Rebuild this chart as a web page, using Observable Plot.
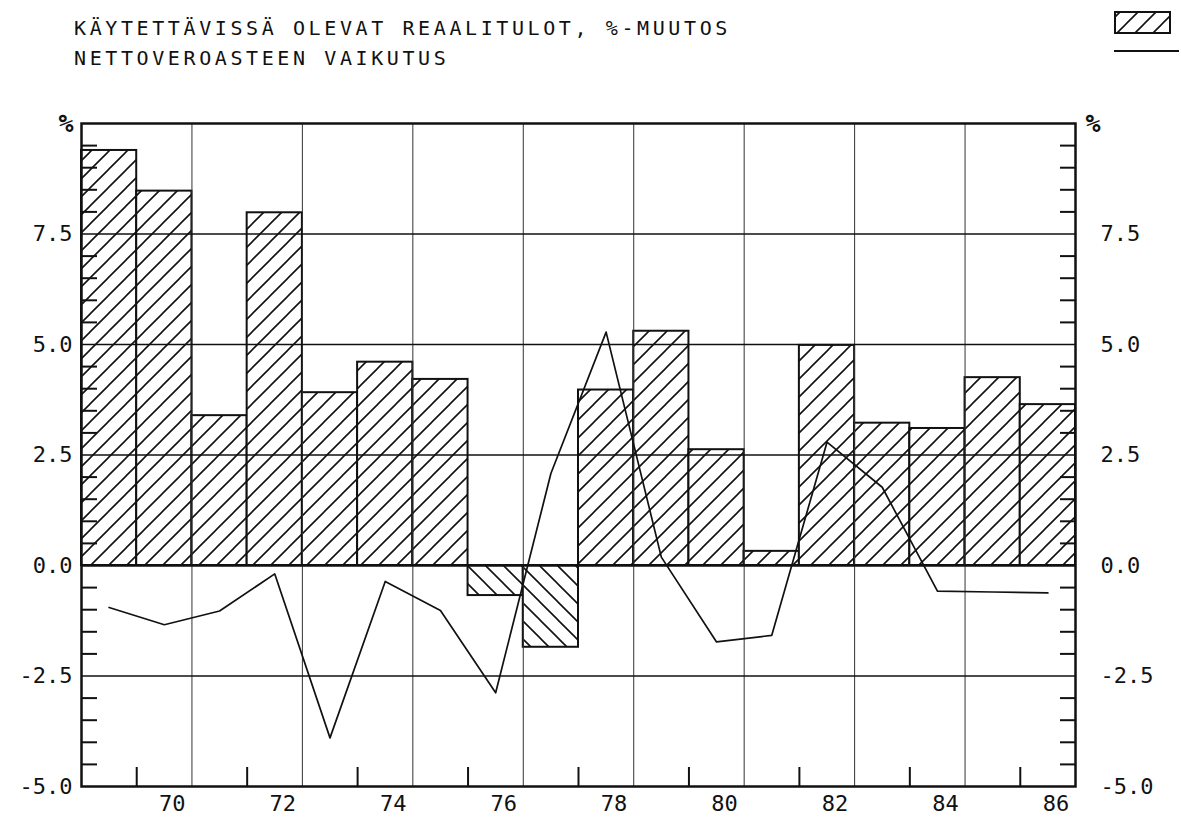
<!DOCTYPE html>
<html>
<head>
<meta charset="utf-8">
<script src="https://cdn.jsdelivr.net/npm/d3@7"></script>
<script src="https://cdn.jsdelivr.net/npm/@observablehq/plot@0.6"></script>
<style>
  body { margin: 0; background: #fff; }
  #wrap { position: relative; width: 1181px; height: 822px; font-family: "DejaVu Sans Mono", monospace; color: #111; }
  #title { position: absolute; left: 74px; top: 13px; font-size: 20px; letter-spacing: 3.6px; line-height: 30px; white-space: pre; }
  #legend { position: absolute; left: 1108px; top: 6px; }
  #chart { position: absolute; left: 0; top: 80px; }
</style>
</head>
<body>
<div id="wrap">
  <div id="title">KÄYTETTÄVISSÄ OLEVAT REAALITULOT, %-MUUTOS
NETTOVEROASTEEN VAIKUTUS</div>
  <svg id="legend" width="73" height="52">
    <defs>
      <pattern id="legHatch" patternUnits="userSpaceOnUse" width="18" height="18">
        <rect width="18" height="18" fill="#fff"></rect>
        <path d="M0,18L18,0M-9,9L9,-9M9,27L27,9" stroke="#111" stroke-width="1.6"></path>
      </pattern>
    </defs>
    <rect x="7" y="6" width="55" height="21" fill="url(#legHatch)" stroke="#111" stroke-width="2"></rect>
    <line x1="6" x2="71" y1="45" y2="45" stroke="#111" stroke-width="2"></line>
  </svg>
  <div id="chart"></div>
</div>
<script>
// ---- data ----
const years = [1969, 1970, 1971, 1972, 1973, 1974, 1975, 1976, 1977, 1978, 1979, 1980, 1981, 1982, 1983, 1984, 1985, 1986];
// Disposable real income, % change (bars)
const realIncomeChange = [9.39, 8.47, 3.39, 7.98, 3.91, 4.60, 4.21, -0.68, -1.85, 3.97, 5.30, 2.62, 0.32, 4.98, 3.22, 3.10, 4.25, 3.64];
// Effect of the net tax rate (line)
const netTaxEffect = [-0.95, -1.34, -1.03, -0.19, -3.90, -0.36, -1.02, -2.88, 2.08, 5.28, 0.19, -1.73, -1.58, 2.79, 1.77, -0.58, -0.60, -0.62];
// Axis ticks and labels
const yTicks = [-5, -2.5, 0, 2.5, 5, 7.5];
const yTickLabels = ["-5.0", "-2.5", "0.0", "2.5", "5.0", "7.5"];
const xLabelYears = [1970, 1972, 1974, 1976, 1978, 1980, 1982, 1984, 1986];
const xTickLabels = ["70", "72", "74", "76", "78", "80", "82", "84", "86"];
const yDomain = [-5, 10];

const data = years.map((year, i) => ({ year, income: realIncomeChange[i], tax: netTaxEffect[i] }));
const positive = data.filter(d => d.income >= 0);
const negative = data.filter(d => d.income < 0);

const gridX = years.filter(y => y % 2 === 0 && y < 1986).map(y => y + 0.5);   // 1970.5, 1972.5, ...
const tickXBottom = years.filter(y => y % 2 === 1).map(y => y + 0.5);        // 1969.5, 1971.5, ...
const gridY = yTicks.filter(v => v > yDomain[0]);
const minorY = d3.range(yDomain[0] + 0.5, yDomain[1], 0.5).filter(v => Math.abs(v / 2.5 - Math.round(v / 2.5)) > 1e-9);
const labelOf = v => yTickLabels[yTicks.indexOf(v)];
const xLabelOf = v => xTickLabels[xLabelYears.indexOf(v)];

const font = "DejaVu Sans Mono";

const chart = Plot.plot({
  width: 1181,
  height: 742,
  marginTop: 43,
  marginBottom: 36,
  marginLeft: 81,
  marginRight: 106,
  x: { domain: [1968.5, 1986.5], axis: null },
  y: { domain: yDomain, axis: null },
  style: { fontFamily: font, fontSize: "22px", color: "#111", background: "#fff" },
  marks: [
    Plot.rect(positive, { x1: d => d.year - 0.5, x2: d => d.year + 0.5, y1: 0, y2: "income", fill: "url(#hatchPos)", stroke: "#111", strokeWidth: 2 }),
    Plot.rect(negative, { x1: d => d.year - 0.5, x2: d => d.year + 0.5, y1: 0, y2: "income", fill: "url(#hatchNeg)", stroke: "#111", strokeWidth: 2 }),
    Plot.ruleX(gridX, { stroke: "#333", strokeWidth: 1 }),
    Plot.ruleY(gridY, { stroke: "#111", strokeWidth: d => d === 0 ? 2.5 : 1.6 }),
    Plot.line(data, { x: "year", y: "tax", stroke: "#111", strokeWidth: 1.7 }),
    // minor ticks, inward, both sides
    Plot.axisY({ anchor: "left", ticks: minorY, tickSize: -16, tickFormat: () => "", strokeWidth: 2, label: null }),
    Plot.axisY({ anchor: "right", ticks: minorY, tickSize: -16, tickFormat: () => "", strokeWidth: 2, label: null }),
    // bottom short ticks
    Plot.axisX({ anchor: "bottom", ticks: tickXBottom, tickSize: -19, tickFormat: () => "", strokeWidth: 2, label: null }),
    // labels
    Plot.axisY({ anchor: "left", ticks: yTicks, tickSize: 0, tickPadding: 9, tickFormat: labelOf, fontSize: 22, label: null, style: { letterSpacing: "2px" } }),
    Plot.axisY({ anchor: "right", ticks: yTicks, tickSize: 0, tickPadding: 25, tickFormat: labelOf, fontSize: 22, label: null, style: { letterSpacing: "2px" } }),
    Plot.axisX({ anchor: "bottom", ticks: xLabelYears, tickSize: 0, tickPadding: 9, dx: 8, tickFormat: xLabelOf, fontSize: 22, label: null, style: { letterSpacing: "2px" } }),
    Plot.text(["%"], { frameAnchor: "top-left", dx: -8, textAnchor: "end", lineAnchor: "middle", fontSize: 25, fontWeight: "bold" }),
    Plot.text(["%"], { frameAnchor: "top-right", dx: 10, textAnchor: "start", lineAnchor: "middle", fontSize: 25, fontWeight: "bold" }),
    Plot.frame({ stroke: "#111", strokeWidth: 2.5 })
  ]
});

// hatch patterns
const svg = d3.select(chart);
const defs = svg.insert("defs", ":first-child");
function hatch(id, dir) {
  const s = 18;
  const p = defs.append("pattern").attr("id", id).attr("patternUnits", "userSpaceOnUse").attr("width", s).attr("height", s);
  p.append("rect").attr("width", s).attr("height", s).attr("fill", "#fff");
  const d = dir > 0
    ? `M0,${s}L${s},0M${-s / 2},${s / 2}L${s / 2},${-s / 2}M${s / 2},${s * 1.5}L${s * 1.5},${s / 2}`
    : `M0,0L${s},${s}M${-s / 2},${s / 2}L${s / 2},${s * 1.5}M${s / 2},${-s / 2}L${s * 1.5},${s / 2}`;
  p.append("path").attr("d", d).attr("stroke", "#111").attr("stroke-width", 1.6).attr("fill", "none");
}
hatch("hatchPos", 1);
hatch("hatchNeg", -1);

document.getElementById("chart").appendChild(chart);
</script>
</body>
</html>
